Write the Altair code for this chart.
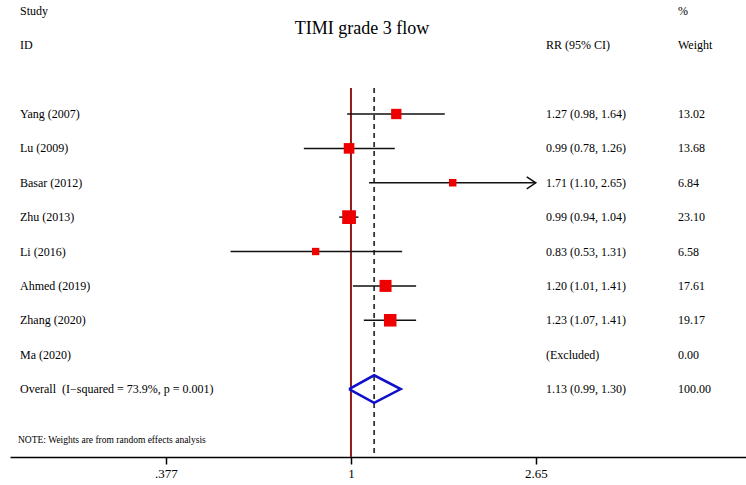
import altair as alt
import pandas as pd

# ---------------- data ----------------
studies = ["Yang (2007)", "Lu (2009)", "Basar (2012)", "Zhu (2013)", "Li (2016)",
           "Ahmed (2019)", "Zhang (2020)", "Ma (2020)"]
rr = [1.27, 0.99, 1.71, 0.99, 0.83, 1.20, 1.23, None]
lo = [0.98, 0.78, 1.10, 0.94, 0.53, 1.01, 1.07, None]
hi = [1.64, 1.26, 2.65, 1.04, 1.31, 1.41, 1.41, None]
weights = [13.02, 13.68, 6.84, 23.10, 6.58, 17.61, 19.17, 0.00]
ci_text = ["1.27 (0.98, 1.64)", "0.99 (0.78, 1.26)", "1.71 (1.10, 2.65)",
           "0.99 (0.94, 1.04)", "0.83 (0.53, 1.31)", "1.20 (1.01, 1.41)",
           "1.23 (1.07, 1.41)", "(Excluded)"]
weight_text = ["13.02", "13.68", "6.84", "23.10", "6.58", "17.61", "19.17", "0.00"]

overall_label = "Overall\u00a0 (I\u2212squared = 73.9%, p = 0.001)"
overall_rr, overall_lo, overall_hi = 1.13, 0.99, 1.30
overall_ci_text = "1.13 (0.99, 1.30)"
overall_weight_text = "100.00"

axis_ticks = [0.377, 1, 2.65]
axis_labels = [".377", "1", "2.65"]

title_text = "TIMI grade 3 flow"
note_text = "NOTE: Weights are from random effects analysis"

# ---------------- layout helpers ----------------
W, H = 736, 457
X_DOMAIN = [0.1656, 8.031]
Y_DOMAIN = [-2.316, 10.977]
FONT = "Liberation Serif"

n = len(studies)
rows = pd.DataFrame({
    "label": studies + [overall_label],
    "k": list(range(1, n + 2)),
    "ci": ci_text + [overall_ci_text],
    "wt": weight_text + [overall_weight_text],
})
study_df = pd.DataFrame({"k": list(range(1, n + 1)), "rr": rr, "lo": lo, "hi": hi,
                         "weight": weights}).dropna()
arrow_df = study_df[study_df["hi"] >= axis_ticks[-1]]

k_over = n + 1
dh = 0.4
diamond = pd.DataFrame({
    "x": [overall_lo, overall_rr, overall_hi, overall_rr, overall_lo],
    "k": [k_over, k_over - dh, k_over, k_over + dh, k_over],
    "o": [0, 1, 2, 3, 4],
})

top_k = 0.244
vlines = pd.DataFrame({"x": [1.0], "k": [top_k], "k2": [Y_DOMAIN[1]]})
olines = pd.DataFrame({"x": [overall_rr], "k": [top_k], "k2": [Y_DOMAIN[1]]})

label_expr = " : ".join(
    f"datum.value == {v} ? '{l}'" for v, l in zip(axis_ticks, axis_labels)
) + " : ''"

xs = alt.Scale(type="log", domain=X_DOMAIN, nice=False, zero=False)
ys = alt.Scale(domain=Y_DOMAIN, reverse=True, nice=False, zero=False)

x_axis = alt.Axis(values=axis_ticks, labelExpr=label_expr, title=None, grid=False,
                  domainColor="black", domainWidth=1.5, tickColor="black", tickWidth=1.5,
                  tickSize=7, labelFont=FONT, labelFontSize=13, labelColor="black",
                  labelPadding=3, labelFlush=False, labelOverlap=False)

base_y = alt.Y("k:Q", scale=ys, axis=None)

axis_layer = alt.Chart(vlines).mark_rule(opacity=0).encode(
    x=alt.X("x:Q", scale=xs, axis=x_axis), y=base_y)

null_line = alt.Chart(vlines).mark_rule(color="#8E1B1B", strokeWidth=2).encode(
    x=alt.X("x:Q", scale=xs), y=base_y, y2="k2:Q")

overall_line = alt.Chart(olines).mark_rule(color="#333333", strokeWidth=1.8,
                                           strokeDash=[5, 4]).encode(
    x=alt.X("x:Q", scale=xs), y=base_y, y2="k2:Q")

ci = alt.Chart(study_df).mark_rule(color="#111111", strokeWidth=1.5).encode(
    x=alt.X("lo:Q", scale=xs), x2="hi:Q", y=base_y)

squares = alt.Chart(study_df).mark_square(color="#EE0000", opacity=1).encode(
    x=alt.X("rr:Q", scale=xs), y=base_y,
    size=alt.Size("weight:Q", scale=alt.Scale(domain=[0, 25], range=[0, 205]), legend=None))

arrows = alt.Chart(arrow_df).mark_point(shape="M-1.5,-1L0,0L-1.5,1", filled=False,
                                         size=144, color="#111111", strokeWidth=1.5,
                                         opacity=1).encode(
    x=alt.X("hi:Q", scale=xs), y=base_y)

diamond_layer = alt.Chart(diamond).mark_line(color="#1010CC", strokeWidth=2.5,
                                             strokeJoin="miter").encode(
    x=alt.X("x:Q", scale=xs), y=base_y, order="o:Q")

txt = dict(font=FONT, fontSize=12, color="black", baseline="middle")

labels = alt.Chart(rows).mark_text(align="left", **txt).encode(
    x=alt.value(10), y=base_y, text="label:N")
ci_layer = alt.Chart(rows).mark_text(align="left", **txt).encode(
    x=alt.value(536), y=base_y, text="ci:N")
wt_layer = alt.Chart(rows).mark_text(align="left", **txt).encode(
    x=alt.value(668), y=base_y, text="wt:N")

headers = pd.DataFrame({
    "t": ["Study", "ID", "RR (95% CI)", "%", "Weight"],
    "k": [-2, -1, -1, -2, -1],
    "px": [10, 10, 536, 668, 668],
})
header_layer = alt.Chart(headers).mark_text(align="left", **txt).encode(
    x=alt.X("px:Q", scale=None), y=base_y, text="t:N")

title_df = pd.DataFrame({"t": [title_text], "k": [-1.47]})
title_layer = alt.Chart(title_df).mark_text(align="center", font=FONT, fontSize=18,
                                            color="black", baseline="middle").encode(
    x=alt.value(352), y=base_y, text="t:N")

note_df = pd.DataFrame({"t": [note_text], "k": [10.48]})
note_layer = alt.Chart(note_df).mark_text(align="left", font=FONT, fontSize=9.5,
                                          color="black", baseline="middle").encode(
    x=alt.value(8), y=base_y, text="t:N")

chart = alt.layer(
    axis_layer, null_line, overall_line, ci, squares, arrows, diamond_layer,
    labels, ci_layer, wt_layer, header_layer, title_layer, note_layer
).properties(
    width=W, height=H, autosize="none",
    padding={"left": 10, "top": 0, "right": 0, "bottom": 28},
    background="white",
).configure_view(stroke=None)

chart.save("out.html", embed_options={"renderer": "svg", "actions": False})
